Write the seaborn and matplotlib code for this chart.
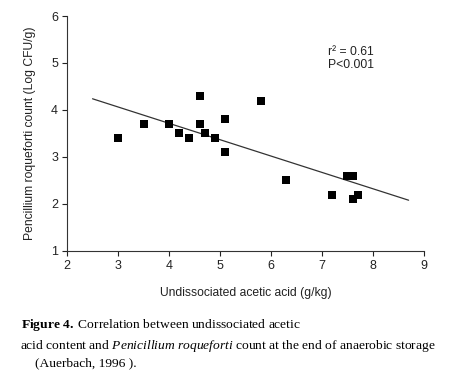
import numpy as np
import matplotlib
matplotlib.use('Agg')
import matplotlib.pyplot as plt
import pandas as pd
import seaborn as sns

# Data
acetic_acid = [3.0, 3.5, 4.0, 4.2, 4.4, 4.6, 4.6, 4.7, 4.9, 5.1, 5.1, 5.8, 6.3, 7.2, 7.5, 7.6, 7.6, 7.7]
log_count = [3.4, 3.7, 3.7, 3.5, 3.4, 4.3, 3.7, 3.5, 3.4, 3.8, 3.1, 4.2, 2.5, 2.2, 2.6, 2.6, 2.1, 2.2]
line_range = [2.5, 8.7]
x_ticks = [2, 3, 4, 5, 6, 7, 8, 9]
y_ticks = [1, 2, 3, 4, 5, 6]

df = pd.DataFrame({'acid': acetic_acid, 'count': log_count})

sns.set_style('ticks')
plt.rcParams['font.family'] = ['Liberation Sans', 'DejaVu Sans']
plt.rcParams['mathtext.fontset'] = 'custom'
plt.rcParams['mathtext.rm'] = 'Liberation Serif'
plt.rcParams['mathtext.it'] = 'Liberation Serif:italic'
plt.rcParams['mathtext.bf'] = 'Liberation Serif:bold'

fig = plt.figure(figsize=(4.5, 3.86), dpi=100, facecolor='white')
ax = fig.add_axes([0.149, 0.35, 0.793, 0.6085])

sns.scatterplot(data=df, x='acid', y='count', marker='s', s=38, color='black',
                edgecolor='black', linewidth=0, ax=ax, zorder=3)

# Linear fit drawn across the range used in the original
slope, intercept = np.polyfit(df['acid'], df['count'], 1)
xs = np.array(line_range)
ax.plot(xs, slope * xs + intercept, color='#333333', linewidth=0.9)

ax.set_xlim(2, 9)
ax.set_ylim(1, 6)
ax.set_xticks(x_ticks)
ax.set_yticks(y_ticks)
ax.tick_params(axis='both', labelsize=9, length=3.5, width=0.8, colors='#222222', pad=3)
for side in ['left', 'bottom']:
    ax.spines[side].set_color('#333333')
    ax.spines[side].set_linewidth(0.8)
sns.despine(ax=ax)

ax.set_xlabel('Undissociated acetic acid (g/kg)', fontsize=8.7, color='#222222', labelpad=11)
ax.set_ylabel('Pencillium roqueforti count (Log CFU/g)', fontsize=8.7, color='#222222', labelpad=11)

ax.text(7.11, 5.23, 'r² = 0.61', fontsize=8.7, color='#222222', va='center')
ax.text(7.11, 4.95, 'P<0.001', fontsize=8.7, color='#222222', va='center')

# Caption under the chart
cap = dict(fontsize=9.7, family='Liberation Serif', color='black', va='center')
fig.text(21 / 450, 1 - 325 / 386, r'$\mathbf{Figure\ 4.}$ Correlation between undissociated acetic', **cap)
fig.text(20 / 450, 1 - 346 / 386,
         r'acid content and $\mathit{Penicillium\ roqueforti}$ count at the end of anaerobic storage', **cap)
fig.text(35 / 450, 1 - 363 / 386, '(Auerbach, 1996 ).', **cap)

fig.savefig('out.png', dpi=100, facecolor='white')
